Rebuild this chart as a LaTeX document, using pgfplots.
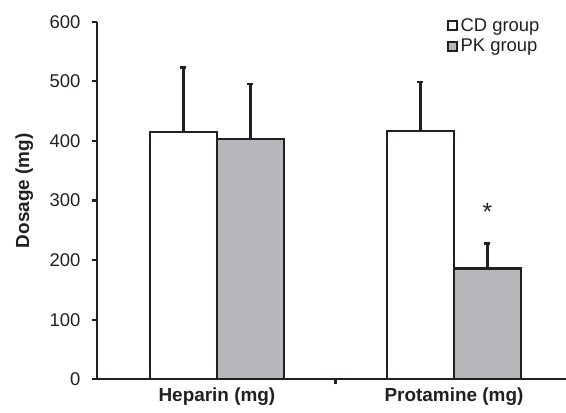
\documentclass[border=0pt]{standalone}
\usepackage{fontspec}
\setmainfont{Liberation Sans}
\usepackage{pgfplots}
\pgfplotsset{compat=1.18}
\definecolor{ink}{HTML}{231F20}
\definecolor{pkgray}{HTML}{B6B7BA}
\newcommand{\tl}[1]{\hbox{\fontsize{18.5}{21}\selectfont #1}}
\begin{document}
\begin{tikzpicture}
\begin{axis}[
  name=ax,
  scale only axis,
  width=469bp, height=357.6bp,
  xmin=-0.506, xmax=1.4726,
  ymin=0, ymax=600,
  axis x line=bottom, axis y line=left,
  axis line style={ink, line width=2.2bp, -},
  ytick={0,100,200,300,400,500,600},
  yticklabels={\tl{0},\tl{100},\tl{200},\tl{300},\tl{400},\tl{500},\tl{600}},
  every y tick label/.append style={font=\fontsize{18.5}{21}\selectfont, xshift=-8bp, text=ink},
  xtick={0.5}, xticklabels={},
  extra x ticks={0,1},
  extra x tick labels={\textbf{Heparin (mg)},\textbf{Protamine (mg)}},
  extra x tick style={major tick length=0pt, xticklabel style={font=\fontsize{19}{22}\selectfont, yshift=-5bp, text=ink}},
  tick align=outside,
  major tick length=5bp,
  tick style={ink, line width=2.2bp},
  ylabel={\textbf{Dosage (mg)}},
  ylabel style={font=\fontsize{19}{22}\selectfont, text=ink, at={(axis description cs:-0.155,0.527)}, anchor=center, rotate=0},
  ybar=0pt, bar width=67bp,
  legend style={draw=none, fill=none, at={(0.745,1.013)}, anchor=north west,
    font=\fontsize{18.5}{21}\selectfont, text=ink, row sep=3bp, inner sep=0pt,
    nodes={inner ysep=1.5bp, inner xsep=3bp}},
  legend cell align=left,
  legend image code/.code={\draw[#1, line width=2bp] (0bp,-4.5bp) rectangle (9bp,4.5bp);},
  clip=false,
]
\addplot[draw=ink, fill=white, line width=2.2bp,
  error bars/.cd, y dir=plus, y explicit,
  error bar style={ink, line width=2.2bp},
  error mark options={ink, line width=2.2bp, mark size=3bp, rotate=90}]
  coordinates {(0,415) +- (0,108) (1,416) +- (0,83)};
\addplot[draw=ink, fill=pkgray, line width=2.2bp,
  error bars/.cd, y dir=plus, y explicit,
  error bar style={ink, line width=2.2bp},
  error mark options={ink, line width=2.2bp, mark size=3bp, rotate=90}]
  coordinates {(0,403) +- (0,92) (1,186) +- (0,42)};
\legend{CD group, PK group}
\node[font=\fontsize{25}{26}\selectfont, text=ink] at ([xshift=33.5bp,yshift=-3bp]axis cs:1,286) {*};
\end{axis}
\pgfresetboundingbox
\path ([shift={(-97bp,-33.7bp)}]ax.south west) rectangle ([shift={(0bp,21.7bp)}]ax.north east);
\end{tikzpicture}
\end{document}
